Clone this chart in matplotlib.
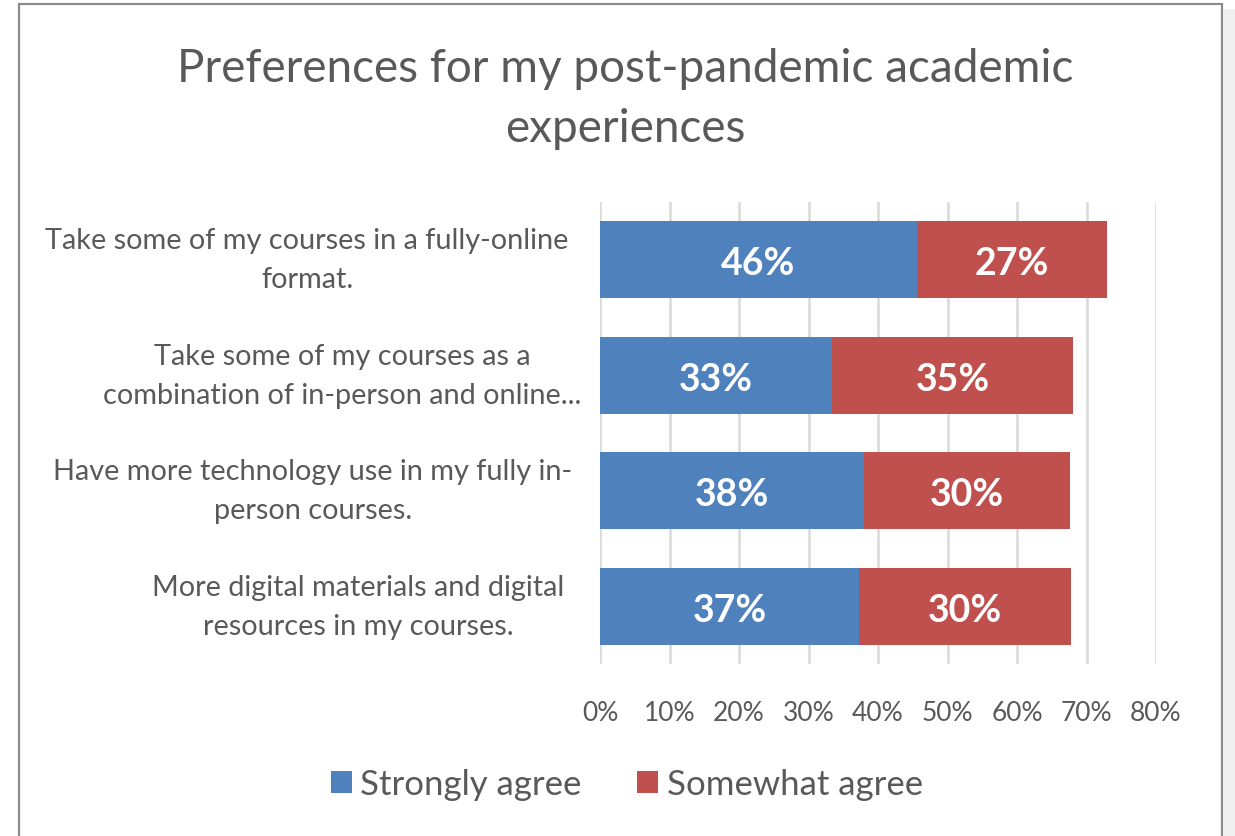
import matplotlib
matplotlib.use("Agg")
import matplotlib.pyplot as plt
from matplotlib.patches import Rectangle
from matplotlib.transforms import blended_transform_factory

# data
categories = [
    "Take some of my courses in a fully-online\nformat.",
    "Take some of my courses as a\ncombination of in-person and online...",
    "Have more technology use in my fully in-\nperson courses.",
    "More digital materials and digital\nresources in my courses.",
]
strongly_agree = [45.6, 33.4, 38.0, 37.3]
somewhat_agree = [27.4, 34.7, 29.6, 30.4]
x_ticks = [0, 10, 20, 30, 40, 50, 60, 70, 80]

BLUE = "#4F81BD"
RED = "#C0504D"
TEXT = "#595959"
FONT = ["Lato", "DejaVu Sans"]

plt.rcParams["font.family"] = FONT

W, H = 1235, 837
fig = plt.figure(figsize=(W / 100, H / 100), dpi=100)

# chart frame like the spreadsheet export
fig.patches.append(Rectangle((1224 / W, 0), 11 / W, 1 - 10 / H, transform=fig.transFigure,
                             facecolor="#F0F0F0", edgecolor="none", zorder=0))
fig.patches.append(Rectangle((19 / W, -0.05), (1222 - 19) / W, 1.05 - 5 / H,
                             transform=fig.transFigure, facecolor="none",
                             edgecolor="#8C8C8C", linewidth=1.6, zorder=1))

ax = fig.add_axes([600 / W, 1 - 665 / H, 556 / W, 462 / H])
y = list(range(len(categories)))
ax.barh(y, strongly_agree, height=0.67, color=BLUE, label="Strongly agree", zorder=3)
ax.barh(y, somewhat_agree, left=strongly_agree, height=0.67, color=RED,
        label="Somewhat agree", zorder=3)

for i in y:
    ax.text(strongly_agree[i] / 2, i + 0.03, f"{strongly_agree[i]:.0f}%", ha="center",
            va="center", color="white", fontsize=27, fontweight="bold", zorder=4)
    ax.text(strongly_agree[i] + somewhat_agree[i] / 2, i + 0.03, f"{somewhat_agree[i]:.0f}%",
            ha="center", va="center", color="white", fontsize=27, fontweight="bold", zorder=4)

ax.set_xlim(0, 80)
ax.set_ylim(len(categories) - 0.5, -0.5)
ax.set_xticks(x_ticks)
ax.set_xticklabels([f"{t}%" for t in x_ticks], color=TEXT, fontsize=19)
ax.set_yticks([])
ax.tick_params(axis="x", length=0, pad=26)
ax.grid(axis="x", color="#D9D9D9", linewidth=1.8, zorder=0)
for s in ax.spines.values():
    s.set_visible(False)

# category labels, centred blocks left of the axis
label_centres = [307, 342, 313, 358]
trans = blended_transform_factory(fig.transFigure, ax.transData)
for i, lab in enumerate(categories):
    ax.text(label_centres[i] / W, i, lab, transform=trans, ha="center", va="center",
            multialignment="center", color=TEXT, fontsize=20.8, linespacing=1.6)

fig.text(625 / W, 1 - 99 / H, "Preferences for my post-pandemic academic\nexperiences",
         ha="center", va="center", color=TEXT, fontsize=33, linespacing=1.52)

handles, labels = ax.get_legend_handles_labels()
fig.legend(handles, labels, loc="center", bbox_to_anchor=(627 / W, 1 - 785 / H), ncol=2,
           frameon=False, fontsize=25, labelcolor=TEXT, handlelength=0.6, handleheight=0.6,
           handletextpad=0.25, columnspacing=1.6)

fig.savefig("out.png", dpi=100, facecolor="white")
